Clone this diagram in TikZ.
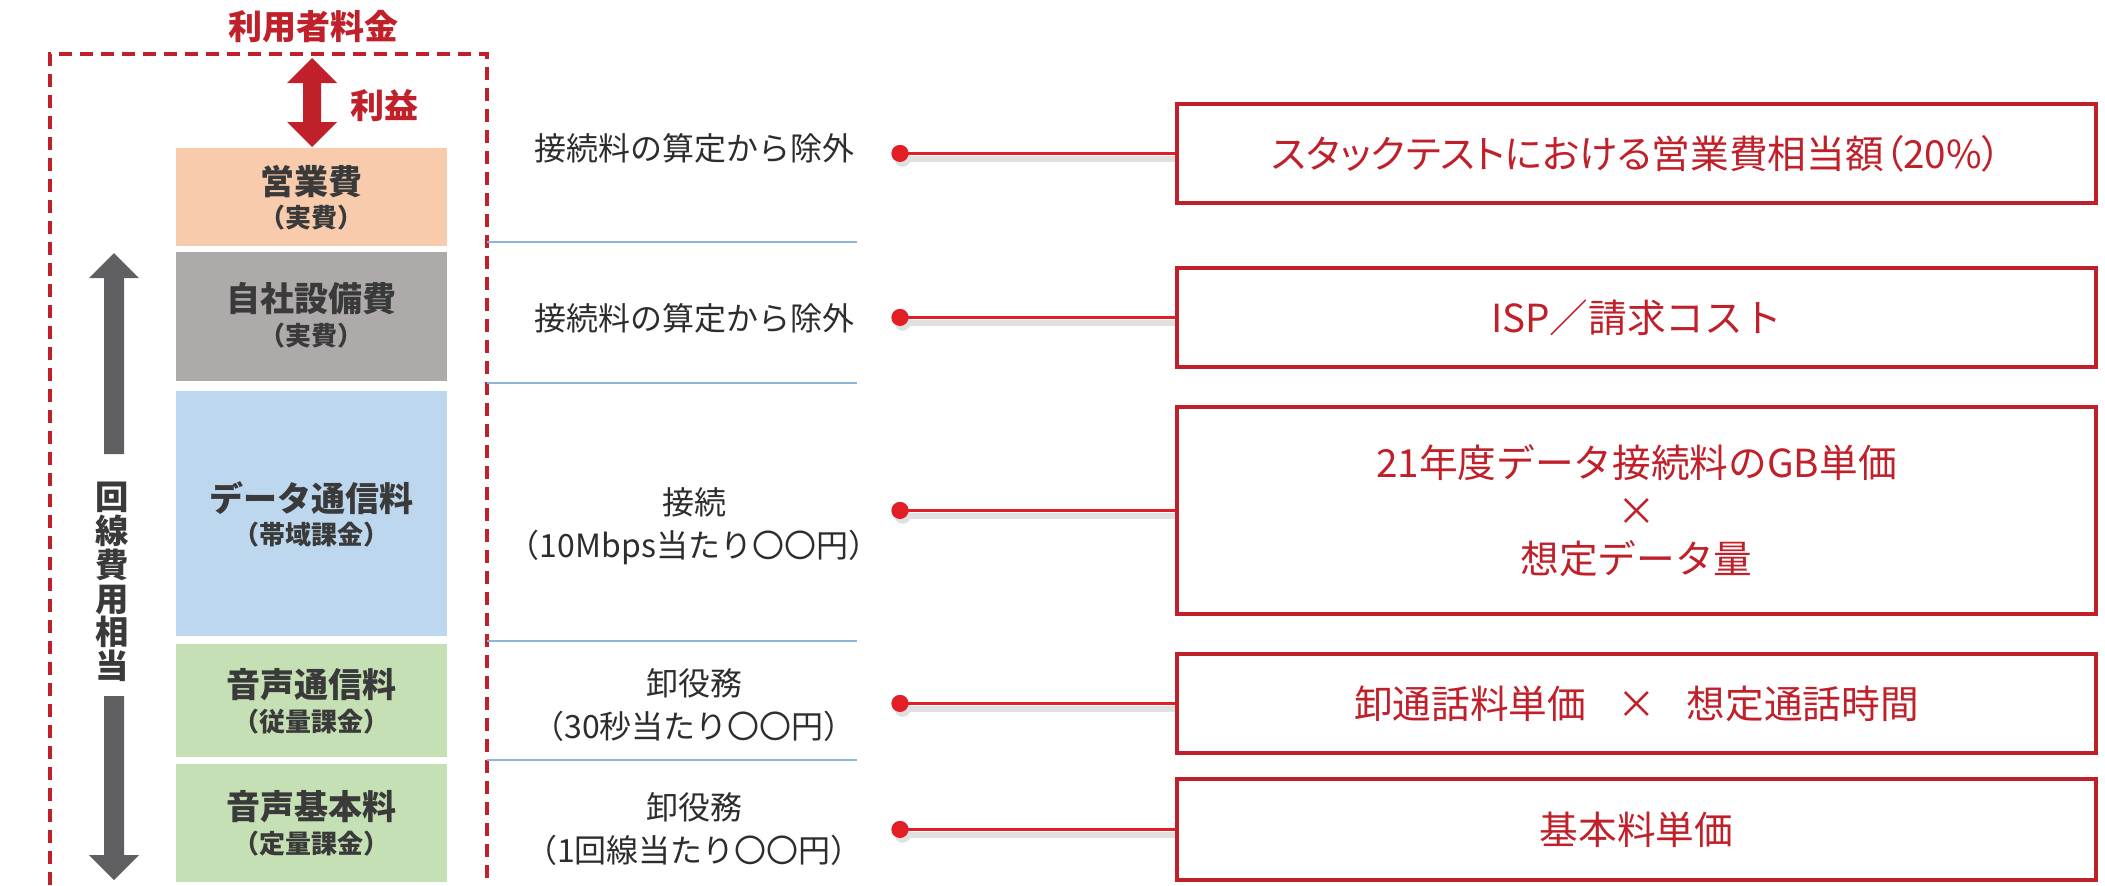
\documentclass[tikz,border=0pt]{standalone}
\usepackage{fontspec}
\setmainfont{Noto Sans CJK JP}
\newfontfamily\jpp{Noto Sans CJK JP}[RawFeature=+palt]
\definecolor{darkred}{RGB}{192,32,42}
\definecolor{dotred}{RGB}{226,30,38}
\definecolor{labgray}{RGB}{58,58,58}
\definecolor{txtgray}{RGB}{45,45,45}
\definecolor{arrgray}{RGB}{95,95,98}
\definecolor{peach}{RGB}{248,203,173}
\definecolor{greyfill}{RGB}{174,170,170}
\definecolor{bluefill}{RGB}{189,215,238}
\definecolor{greenfill}{RGB}{197,224,180}
\definecolor{seplin}{RGB}{143,180,222}
\begin{document}
\begin{tikzpicture}[x=0.75pt,y=-0.75pt,
  costbox/.style={draw=none,minimum width=203.25pt,inner sep=0pt},
  mainlab/.style={text=labgray,font=\bfseries\fontsize{25.5}{28}\selectfont,inner sep=0pt},
  sublab/.style={text=labgray,font=\bfseries\fontsize{19.5}{22}\selectfont,inner sep=0pt},
  midtxt/.style={text=txtgray,font=\fontsize{24}{32.5}\selectfont,align=center,inner sep=0pt},
  resbox/.style={draw=darkred,line width=2.6pt,minimum width=689.25pt,inner sep=0pt,text=darkred,align=center,font=\fontsize{29}{36}\selectfont},
  dotnode/.style={circle,fill=dotred,minimum size=12.75pt,inner sep=0pt},
  conn/.style={draw=dotred,line width=2.2pt},
  connshadow/.style={draw=black!12,line width=5pt},
  sep/.style={draw=seplin,line width=1.2pt},
  redtitle/.style={text=darkred,font=\bfseries\fontsize{25.5}{28}\selectfont,inner sep=0pt}
]
\useasboundingbox (0,0) rectangle (2105,885);

% dashed frame
\draw[darkred,line width=2.3pt,dash pattern=on 9.75pt off 6pt] (50,885) -- (50,54) -- (487,54) -- (487,885);
\node[redtitle] (title) at (313,27) {利用者料金};

% profit arrow
\fill[darkred] (312,58) -- (337,83) -- (321,83) -- (321,122) -- (337,122) -- (312,147) -- (287,122) -- (303,122) -- (303,83) -- (287,83) -- cycle;
\node[redtitle] (profit) at (384,106) {利益};

% cost boxes
\node[costbox,fill=peach,minimum height=73.5pt] (b1) at (311.5,197) {};
\node[costbox,fill=greyfill,minimum height=96.75pt] (b2) at (311.5,316.5) {};
\node[costbox,fill=bluefill,minimum height=183.75pt] (b3) at (311.5,513.5) {};
\node[costbox,fill=greenfill,minimum height=84.75pt] (b4) at (311.5,700.5) {};
\node[costbox,fill=greenfill,minimum height=88.5pt] (b5) at (311.5,823) {};

\node[mainlab] (b1m) at (311.5,182) {営業費};
\node[sublab] (b1s) at (311.5,218) {（実費）};
\node[mainlab] (b2m) at (311.5,299) {自社設備費};
\node[sublab] (b2s) at (311.5,336) {（実費）};
\node[mainlab] (b3m) at (311.5,498) {データ通信料};
\node[sublab] (b3s) at (311.5,535) {（帯域課金）};
\node[mainlab] (b4m) at (311.5,685) {音声通信料};
\node[sublab] (b4s) at (311.5,722) {（従量課金）};
\node[mainlab] (b5m) at (311.5,807) {音声基本料};
\node[sublab] (b5s) at (311.5,844) {（定量課金）};

% grey arrows
\fill[arrgray] (114,253) -- (139,278) -- (124,278) -- (124,454) -- (104,454) -- (104,278) -- (89,278) -- cycle;
\fill[arrgray] (114,880) -- (139,855) -- (124,855) -- (124,696) -- (104,696) -- (104,855) -- (89,855) -- cycle;
\node[text=labgray,font=\bfseries\fontsize{25}{25.4}\selectfont,align=center,inner sep=0pt] (vert) at (112,582) {回\\線\\費\\用\\相\\当};

% separators
\draw[sep] (487,242) -- (857,242);
\draw[sep] (487,383) -- (857,383);
\draw[sep] (487,641) -- (857,641);
\draw[sep] (487,760) -- (857,760);

% middle texts
\node[midtxt] (m1) at (694,148) {接続料の算定から除外};
\node[midtxt] (m2) at (694,318) {接続料の算定から除外};
\node[midtxt] (m3) at (694,526.5) {接続\\（10Mbps当たり〇〇円）};
\node[midtxt] (m4) at (694,705) {卸役務\\（30秒当たり〇〇円）};
\node[midtxt] (m5) at (694,829) {卸役務\\（1回線当たり〇〇円）};

% result boxes
\node[resbox,minimum height=74.25pt] (r1) at (1636.5,153.5) {\jpp スタックテストにおける営業費相当額（20\%）};
\node[resbox,minimum height=74.25pt] (r2) at (1636.5,317.5) {ISP／請求コスト};
\node[resbox,minimum height=155.25pt] (r3) at (1636.5,510.5) {21年度データ接続料のGB単価\\×\\想定データ量};
\node[resbox,minimum height=74.25pt] (r4) at (1636.5,703.5) {卸通話料単価\hspace{0.8em}×\hspace{0.8em}想定通話時間};
\node[resbox,minimum height=75.75pt] (r5) at (1636.5,829.5) {基本料単価};

% dots and connectors
\foreach \i in {1,...,5}{
  \node[dotnode] (d\i) at (900,0 |- r\i.west) {};
}
\foreach \i in {1,...,5}{
  \draw[connshadow] ([xshift=3pt,yshift=-4pt]d\i.center) -- ([yshift=-4pt]d\i -| r\i.west);
  \fill[black!12] ([xshift=2pt,yshift=-4pt]d\i.center) circle (6pt);
}
\foreach \i in {1,...,5}{
  \draw[conn] (d\i.center) -- (d\i -| r\i.west);
  \node[dotnode] at (d\i.center) {};
}
\end{tikzpicture}
\end{document}
